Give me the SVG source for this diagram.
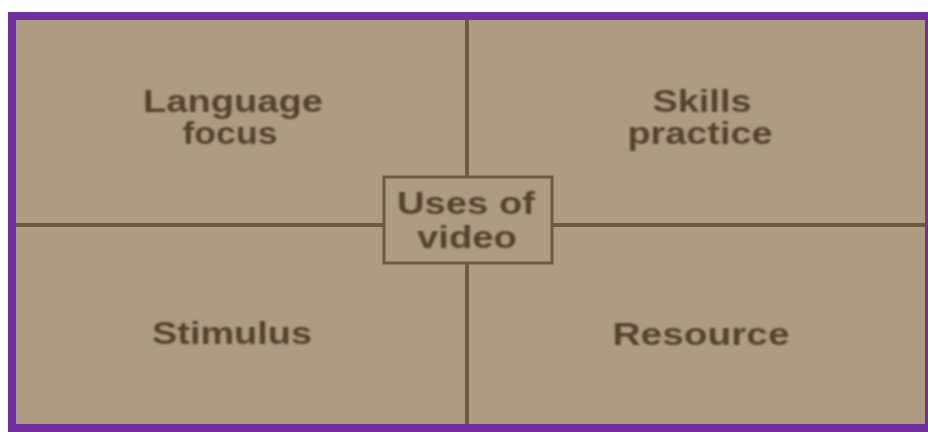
<svg xmlns="http://www.w3.org/2000/svg" width="928" height="432" viewBox="0 0 928 432">
  <defs>
    <filter id="soft" x="-5%" y="-20%" width="110%" height="140%">
      <feGaussianBlur stdDeviation="0.9"/>
    </filter>
    <style>
      .lbl { font-family: "Liberation Sans", Arial, sans-serif; font-size: 31px; font-weight: bold; fill: #55432f; text-anchor: middle; filter: url(#soft); }
      .line { stroke: #6c5a45; stroke-width: 4; fill: none; }
    </style>
  </defs>
  <rect x="0" y="0" width="928" height="432" fill="#ffffff"/>
  <rect x="8" y="12" width="920" height="420" fill="#7030a0"/>
  <rect x="16" y="20" width="909" height="404" fill="#ae9c82"/>

  <g id="connectors">
    <line class="line" x1="467" y1="20" x2="467" y2="176"/>
    <line class="line" x1="467" y1="263" x2="467" y2="424"/>
    <line class="line" x1="16" y1="225" x2="383" y2="225"/>
    <line class="line" x1="553" y1="225" x2="925" y2="225"/>
  </g>

  <g id="center">
    <rect x="384" y="177" width="168" height="86" fill="#ae9c82" stroke="#6c5a45" stroke-width="3"/>
    <text class="lbl" x="466" y="214" textLength="138" lengthAdjust="spacingAndGlyphs">Uses of</text>
    <text class="lbl" x="467" y="248" textLength="100" lengthAdjust="spacingAndGlyphs">video</text>
  </g>

  <g id="language-focus">
    <text class="lbl" x="233" y="112" textLength="180" lengthAdjust="spacingAndGlyphs">Language</text>
    <text class="lbl" x="230" y="144" textLength="95" lengthAdjust="spacingAndGlyphs">focus</text>
  </g>

  <g id="skills-practice">
    <text class="lbl" x="702" y="112" textLength="99" lengthAdjust="spacingAndGlyphs">Skills</text>
    <text class="lbl" x="700" y="144" textLength="145" lengthAdjust="spacingAndGlyphs">practice</text>
  </g>

  <g id="stimulus">
    <text class="lbl" x="232" y="344" textLength="160" lengthAdjust="spacingAndGlyphs">Stimulus</text>
  </g>

  <g id="resource">
    <text class="lbl" x="701" y="345" textLength="177" lengthAdjust="spacingAndGlyphs">Resource</text>
  </g>
</svg>
